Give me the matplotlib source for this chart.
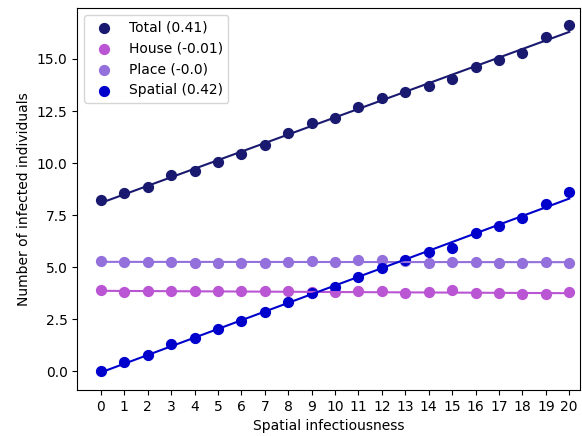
import numpy as np
import matplotlib.pyplot as plt

# spatial infectiousness values
x = np.arange(0, 21)

total = [8.24, 8.56, 8.84, 9.43, 9.63, 10.06, 10.43, 10.86, 11.44, 11.92, 12.16,
         12.68, 13.11, 13.40, 13.71, 14.03, 14.62, 14.94, 15.30, 16.06, 16.62]
house = [3.90, 3.79, 3.84, 3.84, 3.84, 3.84, 3.84, 3.84, 3.84, 3.82, 3.80,
         3.84, 3.84, 3.75, 3.79, 3.90, 3.75, 3.75, 3.70, 3.70, 3.79]
place = [5.30, 5.27, 5.27, 5.27, 5.19, 5.19, 5.19, 5.19, 5.25, 5.30, 5.25,
         5.33, 5.33, 5.30, 5.22, 5.27, 5.25, 5.22, 5.19, 5.25, 5.22]
spatial = [0.0, 0.43, 0.78, 1.30, 1.60, 2.02, 2.40, 2.84, 3.32, 3.76, 4.03,
           4.54, 4.95, 5.33, 5.73, 5.90, 6.65, 6.97, 7.37, 8.03, 8.60]

series = [
    ("Total (0.41)", total, "midnightblue"),
    ("House (-0.01)", house, "mediumorchid"),
    ("Place (-0.0)", place, "mediumpurple"),
    ("Spatial (0.42)", spatial, "mediumblue"),
]

fig, ax = plt.subplots(figsize=(5.82, 4.36), dpi=100)
fig.subplots_adjust(left=0.133, right=0.997, top=0.982, bottom=0.106)

for label, y, c in series:
    ax.scatter(x, y, color=c, s=50, label=label, zorder=2)
    # 线性拟合
    k, b = np.polyfit(x, y, 1)
    ax.plot(x, k * x + b, color=c, lw=1.5, zorder=3)

ax.set_xticks(x)
ax.set_xlim(-1, 20.47)
ax.set_xlabel("Spatial infectiousness")
ax.set_ylabel("Number of infected individuals")
ax.legend(loc="upper left")

plt.savefig("out.png")
